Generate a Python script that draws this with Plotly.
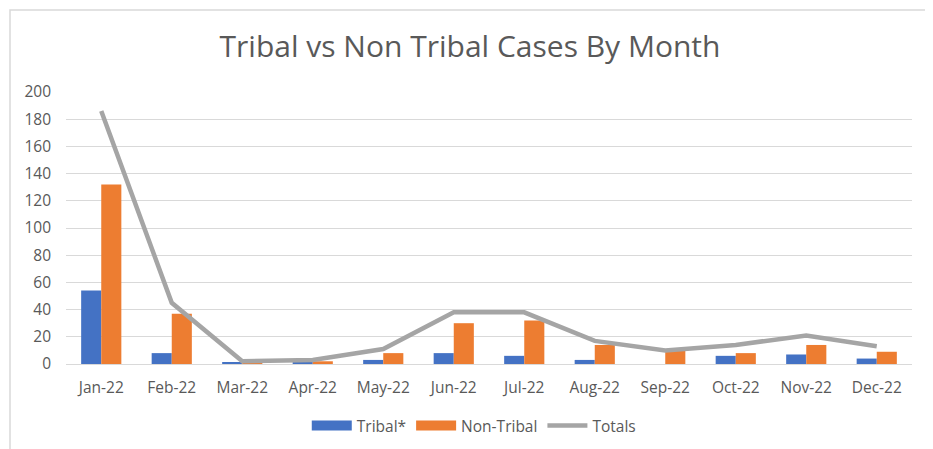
import plotly.graph_objects as go

months = ["Jan-22", "Feb-22", "Mar-22", "Apr-22", "May-22", "Jun-22",
          "Jul-22", "Aug-22", "Sep-22", "Oct-22", "Nov-22", "Dec-22"]
tribal = [54, 8, 1, 1, 3, 8, 6, 3, 0, 6, 7, 4]
non_tribal = [132, 37, 1, 2, 8, 30, 32, 14, 10, 8, 14, 9]
totals = [186, 45, 2, 3, 11, 38, 38, 17, 10, 14, 21, 13]

BLUE = "#4472c4"
ORANGE = "#ed7d31"
GRAY = "#a5a5a5"
TEXT = "#595959"
GRID = "#d9d9d9"
FONT = "Open Sans"

fig = go.Figure()
fig.add_trace(go.Bar(x=months, y=tribal, name="Tribal*", marker_color=BLUE,
                     marker_line_width=0, showlegend=False))
fig.add_trace(go.Bar(x=months, y=non_tribal, name="Non-Tribal", marker_color=ORANGE,
                     marker_line_width=0, showlegend=False))
fig.add_trace(go.Scatter(x=months, y=totals, name="Totals", mode="lines",
                         line=dict(color=GRAY, width=4.5), showlegend=False))

# legend entries (wide swatches like the Excel legend)
for name, color, w in [("Tribal*", BLUE, 10), ("Non-Tribal", ORANGE, 10), ("Totals", GRAY, 4.5)]:
    fig.add_trace(go.Scatter(x=[None], y=[None], mode="lines", name=name,
                             line=dict(color=color, width=w)))

# outer chart border
fig.add_shape(type="rect", xref="paper", yref="paper",
              x0=-0.0662, x1=1.0225, y0=-0.35, y1=1.3015,
              line=dict(color=GRID, width=1.5), fillcolor="rgba(0,0,0,0)", layer="below")

# page body has an 8px margin, so the figure is offset by that much
fig.update_layout(
    width=924, height=441,
    margin=dict(l=58, r=20, t=84, b=85, autoexpand=False),
    paper_bgcolor="white", plot_bgcolor="white",
    font=dict(family=FONT, color=TEXT, size=15.5),
    title=dict(text="Tribal vs Non Tribal Cases By Month", x=0.5, xanchor="center",
               y=0.9116, yanchor="middle", font=dict(size=30, color=TEXT, family=FONT)),
    barmode="group", bargap=0.43, bargroupgap=0,
    legend=dict(orientation="h", x=0.482, xanchor="center", y=-0.228, yanchor="middle",
                font=dict(size=15.5, color=TEXT), itemwidth=40, tracegroupgap=0),
)
fig.update_yaxes(range=[0, 200], dtick=20, showgrid=True, gridcolor=GRID, gridwidth=1.3,
                 zeroline=True, zerolinecolor=GRID, zerolinewidth=1.3,
                 ticks="", ticklabelstandoff=14, showline=False)
fig.update_xaxes(showgrid=False, ticks="", ticklabelstandoff=12, showline=False)

fig.write_html("out.html")
